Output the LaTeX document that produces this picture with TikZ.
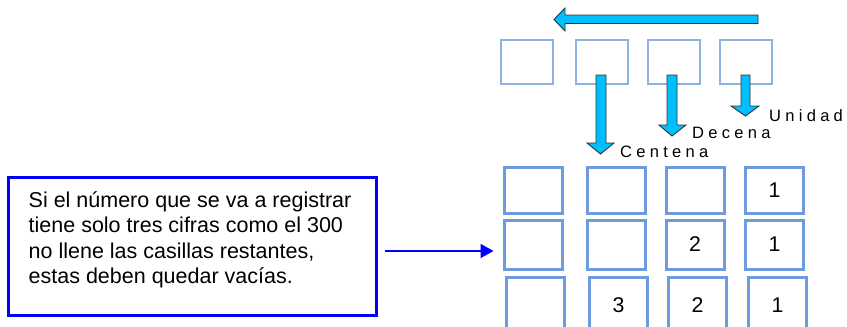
\documentclass[tikz,border=0pt]{standalone}
\usepackage{fontspec}
\setmainfont{Liberation Sans}
\newfontfamily\espaciada[LetterSpace=26]{Liberation Sans}
\usetikzlibrary{arrows.meta}
\definecolor{casilla}{RGB}{110,155,220}
\definecolor{casillaclara}{RGB}{141,179,226}
\definecolor{celeste}{RGB}{0,191,255}
\definecolor{contorno}{RGB}{50,50,50}
\definecolor{azul}{RGB}{0,0,255}
\tikzset{
  bloque/.style={fill=celeste, draw=contorno, line width=0.9pt},
  etiqueta/.style={anchor=base west, inner sep=0pt, font=\espaciada\fontsize{16.5}{19}\selectfont},
  cifra/.style={font=\fontsize{21.3}{25}\selectfont}
}
\begin{document}
\begin{tikzpicture}[x=1pt,y=-1pt]

        \clip (0,0) rectangle (847,327);
        \fill[white] (0,0) rectangle (847,327);

        \begin{scope}[every node/.style={draw=casillaclara, line width=2pt, minimum width=52pt, minimum height=44pt, inner sep=0pt}]
          \node (t1) at (527,62)   {};
          \node (t2) at (602,62)   {};
          \node (t3) at (674,62)   {};
          \node (t4) at (745.5,62) {};
        \end{scope}

        \begin{scope}[every node/.style={draw=casilla, line width=3pt, minimum width=58pt, inner sep=0pt, cifra}]
          \node[minimum height=46pt] (c11) at (533,190)   {};
          \node[minimum height=46pt] (c12) at (616.5,190) {};
          \node[minimum height=46pt] (c13) at (695,190)   {};
          \node[minimum height=46pt] (c14) at (774.5,190) {1};
          \node[minimum height=49pt] (c21) at (533,244.5)   {};
          \node[minimum height=49pt] (c22) at (616.5,244.5) {};
          \node[minimum height=49pt] (c23) at (695,244.5)   {2};
          \node[minimum height=49pt] (c24) at (774.5,244.5) {1};
          \node[minimum height=55pt] (c31) at (535.5,305) {};
          \node[minimum height=55pt] (c32) at (618.5,305) {3};
          \node[minimum height=55pt] (c33) at (697.5,305) {2};
          \node[minimum height=55pt] (c34) at (777.5,305) {1};
        \end{scope}

        \draw[bloque] (758,15) -- (565,15) -- (565,8) -- (554,19.5) -- (565,31) -- (565,23.5) -- (758,23.5) -- cycle;

        \draw[bloque] (596,75) -- (596,143) -- (587,143) -- (600.5,154) -- (614,143) -- (606,143) -- (606,75) -- cycle;
        \draw[bloque] (667,75) -- (667,125) -- (659,125) -- (672,136) -- (686,125) -- (677,125) -- (677,75) -- cycle;
        \draw[bloque] (741,75) -- (741,106) -- (731,106) -- (745.5,116) -- (759,106) -- (750,106) -- (750,75) -- cycle;

        \node[etiqueta] (unidad)  at (769,121) {Unidad};
        \node[etiqueta] (decena)  at (692,138) {Decena};
        \node[etiqueta] (centena) at (620,157) {Centena};

        \node[draw=azul, line width=2.5pt, minimum width=368pt, minimum height=138pt] (nota) at (192.5,246.5) {};
        \node[anchor=base west, align=left, inner sep=0pt, font=\fontsize{21.5}{25.4}\selectfont] (texto) at (28.5,283.5)
          {Si el número que se va a registrar\\tiene solo tres cifras como el 300\\no llene las casillas restantes,\\estas deben quedar vacías.};

        \draw[azul, line width=1.5pt, -{Triangle[length=13pt,width=14pt]}] ([xshift=7pt,yshift=-4.5pt]nota.east) -- ([xshift=-9pt,yshift=-6.5pt]c21.west);

      \end{tikzpicture}
\end{document}
